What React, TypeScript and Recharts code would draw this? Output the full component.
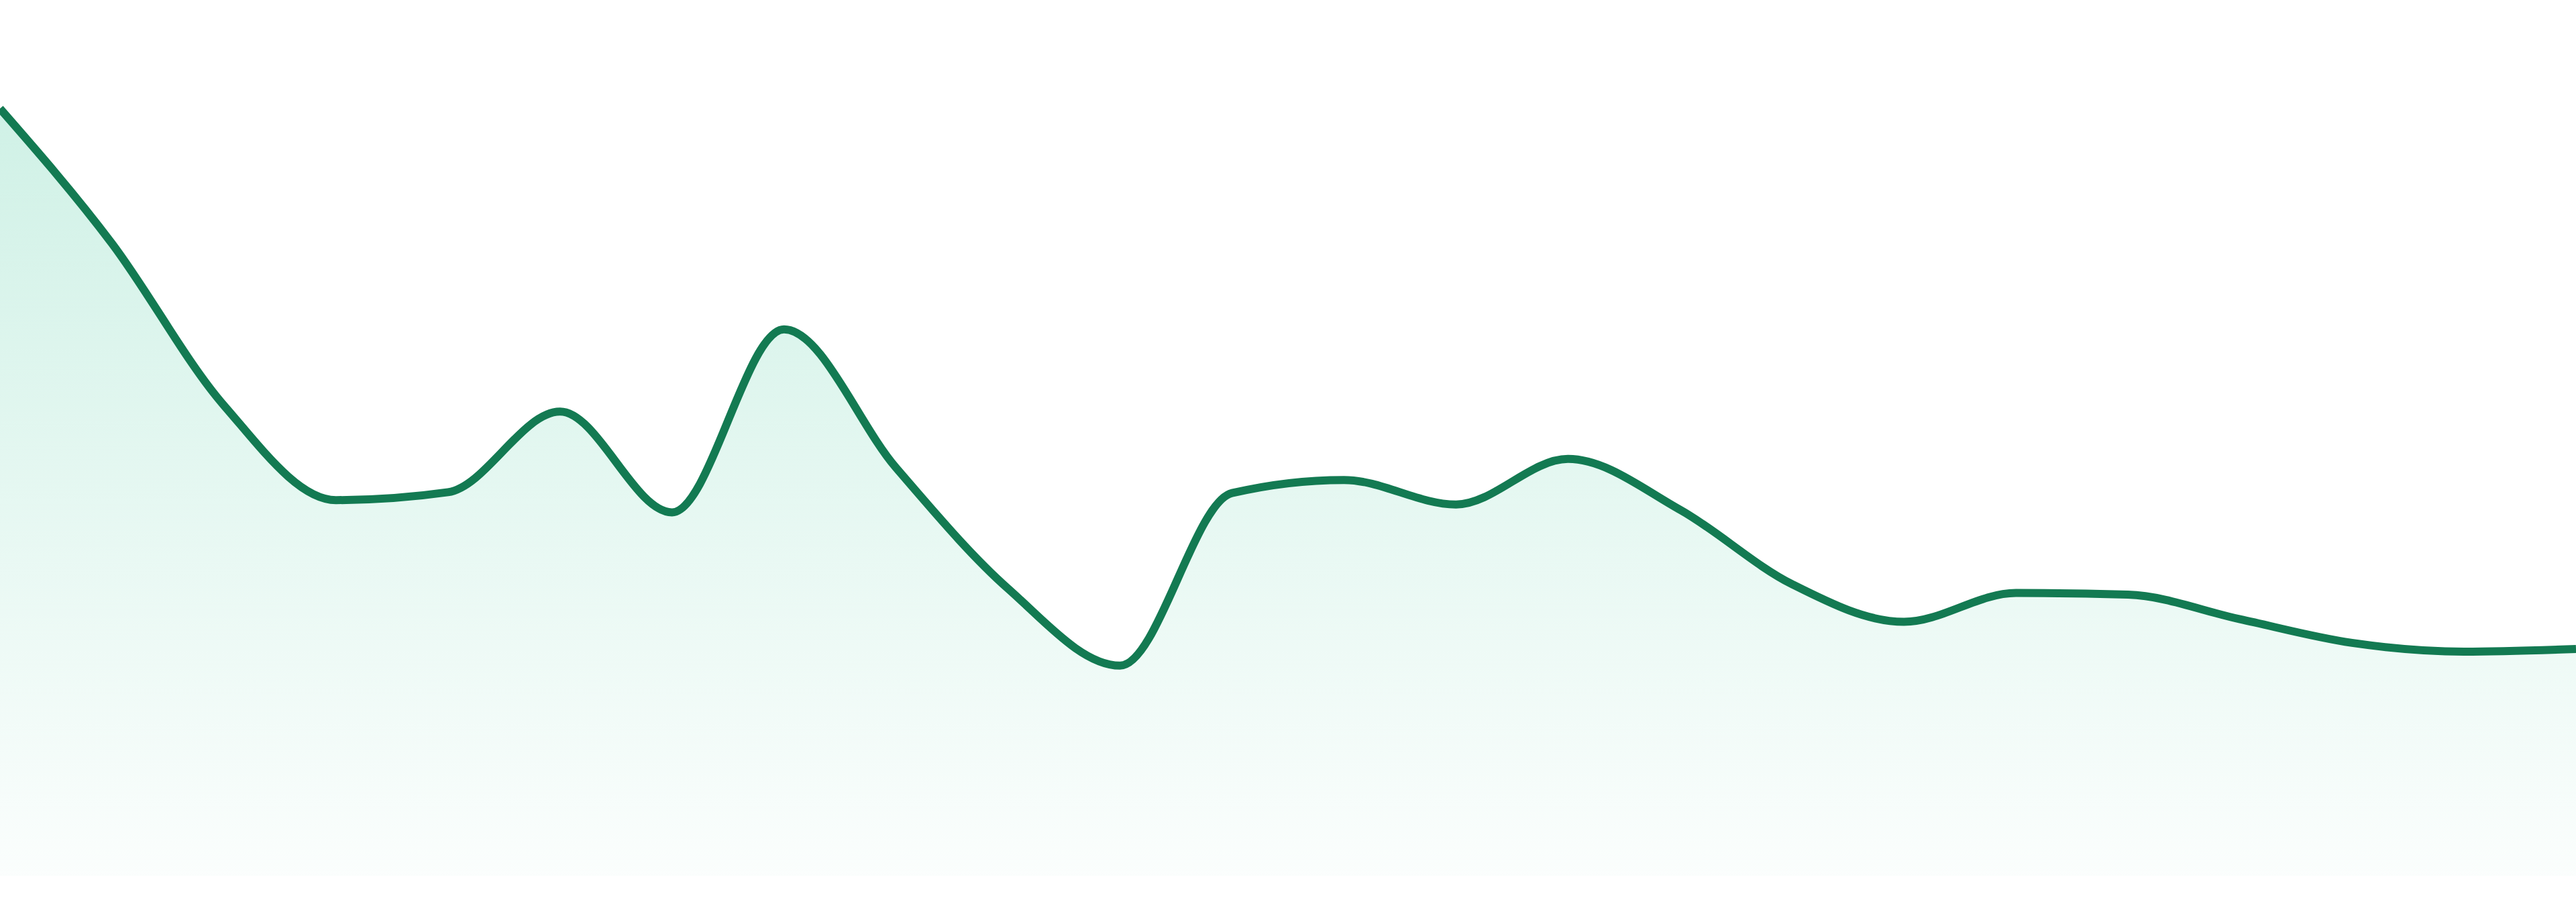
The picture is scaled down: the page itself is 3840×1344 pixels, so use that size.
import { AreaChart, Area, XAxis, YAxis } from 'recharts';

// 24 evenly spaced samples (0–100 scale)
const labels = [
  'P1', 'P2', 'P3', 'P4', 'P5', 'P6', 'P7', 'P8', 'P9', 'P10', 'P11', 'P12',
  'P13', 'P14', 'P15', 'P16', 'P17', 'P18', 'P19', 'P20', 'P21', 'P22', 'P23', 'P24',
];
const values = [
  87.6, 72.2, 53.7, 42.9, 43.8, 53.0, 41.5, 62.4, 46.6, 32.8, 24.0, 43.7,
  45.2, 42.4, 47.6, 41.8, 33.3, 29.0, 32.3, 32.1, 29.3, 26.6, 25.6, 25.9,
];

const data = labels.map((label, i) => ({ label, value: values[i] }));

export default function App() {
  return (
    <div style={{ position: 'absolute', left: 0, top: 0, background: '#ffffff' }}>
      <AreaChart width={3840} height={1305} data={data} margin={{ top: 0, right: 0, bottom: 0, left: 0 }}>
        <defs>
          <linearGradient id="areaFill" x1="0" y1="0" x2="0" y2="1">
            <stop offset="0%" stopColor="#10b981" stopOpacity={0.33} />
            <stop offset="100%" stopColor="#10b981" stopOpacity={0.03} />
          </linearGradient>
        </defs>
        <XAxis dataKey="label" hide />
        <YAxis domain={[0, 100]} hide />
        <Area
          type="monotone"
          dataKey="value"
          stroke="#137a52"
          strokeWidth={12}
          fill="url(#areaFill)"
          dot={false}
          activeDot={false}
          isAnimationActive={false}
        />
      </AreaChart>
    </div>
  );
}
